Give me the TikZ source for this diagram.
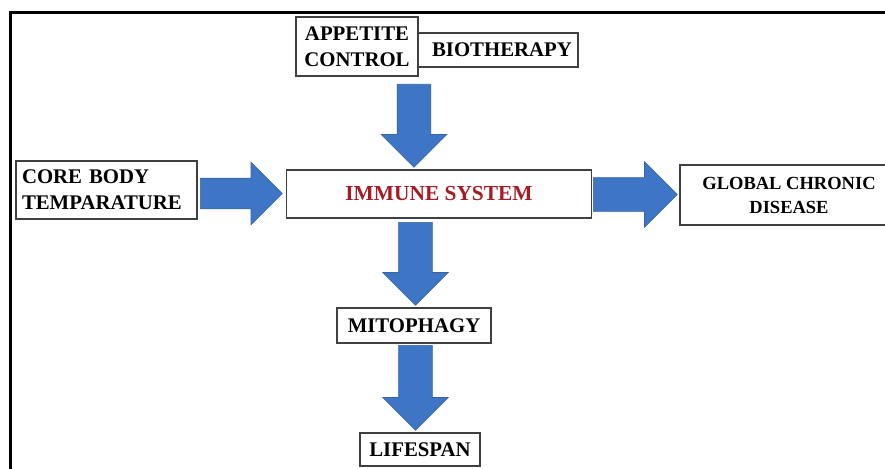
\documentclass[tikz,border=0pt]{standalone}
\usepackage{fontspec}
\setmainfont{Liberation Serif}
\usetikzlibrary{shapes.arrows}
\definecolor{arrowblue}{RGB}{62,117,196}
\definecolor{arrowedge}{RGB}{52,100,170}
\definecolor{boxedge}{RGB}{64,64,64}
\definecolor{immred}{RGB}{165,28,36}
\tikzset{
  box/.style={draw=boxedge, line width=1.6pt, fill=white, inner sep=0pt, font=\bfseries\fontsize{20.8}{26}\selectfont, align=center},
  barrow/.style={single arrow, draw=arrowedge, line width=0.6pt, fill=arrowblue, inner xsep=0pt, inner ysep=16.5pt,
    single arrow head extend=16pt, single arrow tip angle=90, single arrow head indent=0pt, anchor=tail},
  frameline/.style={line width=3pt, black}
}
\begin{document}
\begin{tikzpicture}[x=1pt,y=-1pt]
\clip (0,0) rectangle (885,468);
\fill[white] (0,0) rectangle (885,468);
% frame
\draw[frameline] (886,13) -- (10,13) -- (10,470);
% boxes
\node[box, minimum width=160pt, minimum height=34pt] (bio) at (498,50) {\hspace*{8pt}BIOTHERAPY};
\node[box, minimum width=122pt, minimum height=59pt] (app) at (357,46.5) {APPETITE\\CONTROL};
\node[box, minimum width=305pt, minimum height=48pt, text=immred, font=\bfseries\fontsize{21.4}{26}\selectfont] (imm) at (439,194) {IMMUNE SYSTEM};
\node[box, minimum width=181pt, minimum height=58pt, text width=169pt, align=left, inner xsep=6pt] (core) at (106.5,190) {CORE BODY\\TEMPARATURE};
\node[box, minimum width=218pt, minimum height=60pt, font=\bfseries\fontsize{18.5}{24}\selectfont] (glob) at (789,195) {GLOBAL CHRONIC\\DISEASE};
\node[box, minimum width=154pt, minimum height=35pt] (mito) at (414,325.5) {MITOPHAGY};
\node[box, minimum width=120pt, minimum height=33pt] (life) at (420,449.5) {LIFESPAN};
% block arrows
\node[barrow, rotate=-90, minimum height=83pt] (a1) at (414,84) {};
\node[barrow, minimum height=82pt, inner ysep=15pt] (a2) at (200,193.5) {};
\node[barrow, minimum height=84pt] (a3) at (593,194.5) {};
\node[barrow, rotate=-90, minimum height=83pt] (a4) at (415.5,222) {};
\node[barrow, rotate=-90, minimum height=85pt] (a5) at (415.5,345) {};
\end{tikzpicture}
\end{document}
